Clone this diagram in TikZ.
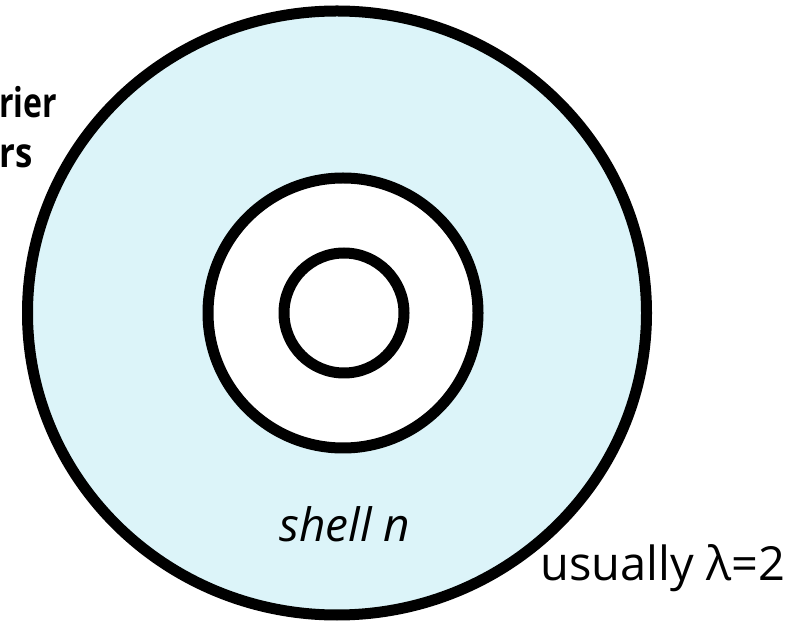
\documentclass[tikz,border=0pt]{standalone}
\usepackage{fontspec}
\setmainfont{Open Sans}
\definecolor{shellfill}{RGB}{220,244,249}

\begin{document}
\begin{tikzpicture}[x=1pt, y=1pt,
    ring/.style={draw=black, line width=11pt},
    lbl/.style={inner sep=0pt, font=\fontsize{47}{50}\selectfont},
    side/.style={lbl, font=\fontsize{41}{50}\selectfont\bfseries, anchor=base west}]
    \useasboundingbox (0,0) rectangle (792,621);
    % Outer shell
    \draw[ring, fill=shellfill] (337,308) ellipse (309.5 and 302);
    % Inner shells
    \draw[ring, fill=white] (343,308) circle (135);
    \draw[ring] (344,308) circle (60);
    % Labels
    \node[side] (top) at (-1,503) {\scalebox{0.78}[1]{rier}};
    \node[side] (bot) at (-1,453) {\scalebox{0.85}[1]{rs}};
    \node[lbl, font=\fontsize{46}{50}\selectfont\itshape, anchor=base] (shell) at (345,79) {shell n};
    \node[lbl, anchor=base west] (lam) at (540,41) {usually λ=2};
\end{tikzpicture}
\end{document}
